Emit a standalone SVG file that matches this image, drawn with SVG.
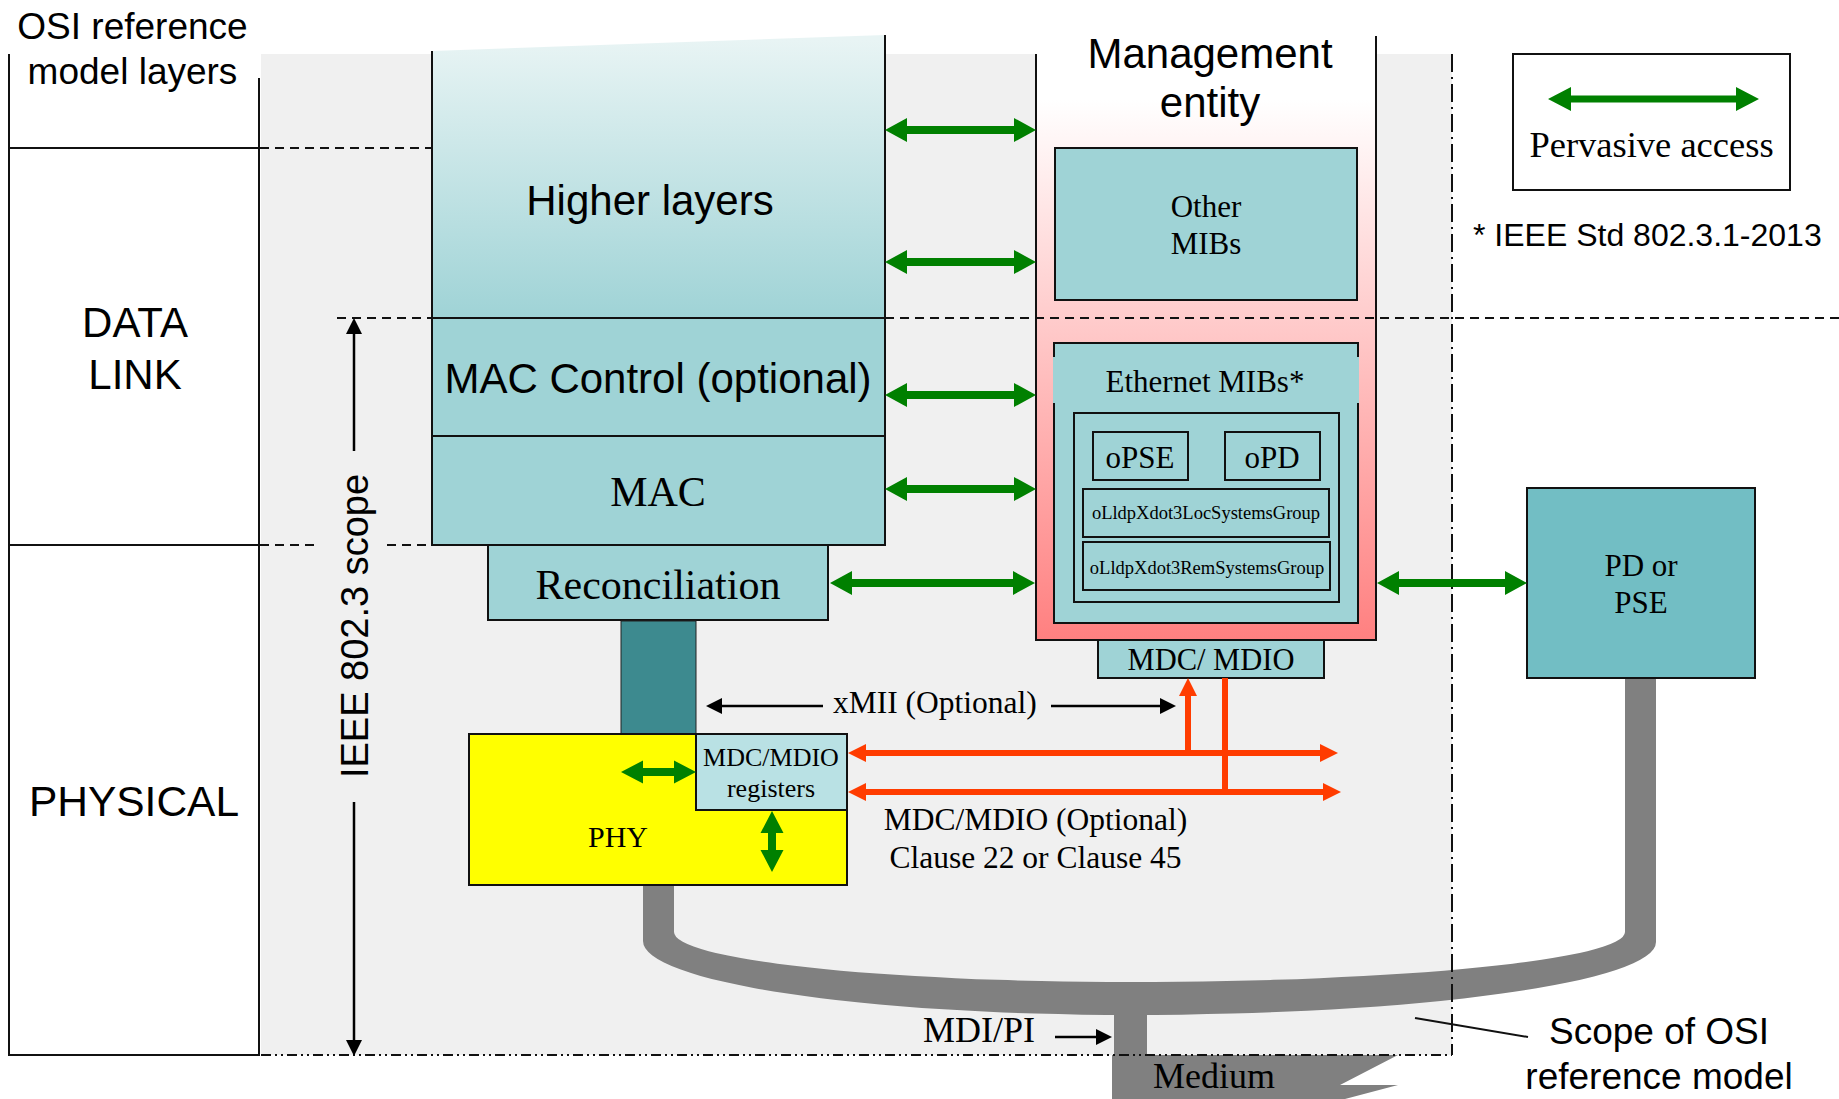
<svg xmlns="http://www.w3.org/2000/svg" width="1839" height="1099" viewBox="0 0 1839 1099">
<defs>
<style>
.sans{font-family:"Liberation Sans",Arial,sans-serif;fill:#000}
.serif{font-family:"Liberation Serif","Times New Roman",serif;fill:#000}
.box{stroke:#111;stroke-width:2}
.teal{fill:#9fd3d6}
.ln{stroke:#111;stroke-width:2;fill:none}
.dash{stroke:#111;stroke-width:1.8;stroke-dasharray:9,6;fill:none}
.green{fill:#008000}
.red{stroke:#ff3c00;stroke-width:6;fill:none}
.blk{stroke:#000;stroke-width:2.5;fill:none}
.cable{fill:#808080}
</style>
<linearGradient id="gHigh" gradientUnits="userSpaceOnUse" x1="0" y1="40" x2="0" y2="318">
<stop offset="0" stop-color="#e8f4f4"/><stop offset="1" stop-color="#9fd3d6"/>
</linearGradient>
<linearGradient id="gMgmt" gradientUnits="userSpaceOnUse" x1="0" y1="100" x2="0" y2="640">
<stop offset="0" stop-color="#ffffff"/><stop offset="1" stop-color="#ff8080"/>
</linearGradient>
<marker id="mBlk" markerUnits="userSpaceOnUse" markerWidth="16" markerHeight="16" viewBox="0 0 16 16" refX="0" refY="8" orient="auto-start-reverse">
<path d="M0,0 L16,8 L0,16 Z" fill="#000"/>
</marker>
<marker id="mRed" markerUnits="userSpaceOnUse" markerWidth="18" markerHeight="18" viewBox="0 0 18 18" refX="0" refY="9" orient="auto-start-reverse">
<path d="M0,0 L18,9 L0,18 Z" fill="#ff3c00"/>
</marker>
</defs>

<!-- scope of OSI background -->
<rect x="261" y="54" width="1191" height="1001" fill="#f0f0f0"/>

<!-- OSI layers column -->
<g id="osi-column">
<line class="ln" x1="9" y1="54" x2="9" y2="1056"/>
<line class="ln" x1="259" y1="78" x2="259" y2="1056"/>
<line class="ln" x1="8" y1="148" x2="260" y2="148"/>
<line class="ln" x1="8" y1="545" x2="260" y2="545"/>
<line class="ln" x1="8" y1="1055" x2="260" y2="1055"/>
<text class="sans" font-size="37" text-anchor="middle" x="132.5" y="39">OSI reference</text>
<text class="sans" font-size="37" text-anchor="middle" x="132.5" y="84">model layers</text>
<text class="sans" font-size="42" text-anchor="middle" x="135" y="337">DATA</text>
<text class="sans" font-size="42" text-anchor="middle" x="135" y="389">LINK</text>
<text class="sans" font-size="42.5" text-anchor="middle" x="134" y="816">PHYSICAL</text>
</g>

<!-- layer boundary dashed lines -->
<g id="boundaries">
<line class="dash" x1="260" y1="148" x2="432" y2="148"/>
<line class="dash" x1="337" y1="318" x2="432" y2="318"/>
<line class="dash" x1="260" y1="545" x2="320" y2="545"/>
<line class="dash" x1="387" y1="545" x2="432" y2="545"/>
</g>

<!-- cables -->
<g id="cables">
<path class="cable" d="M643,885 L643,941 A487,74 0 0 0 1130,1015 A526,73 0 0 0 1656,942 L1656,678 L1625,678 L1625,932 A495,50 0 0 1 1130,982 A456,50 0 0 1 674,932 L674,885 Z"/>
<rect class="cable" x="1114" y="1000" width="33" height="56"/>
<polygon class="cable" points="1112,1055 1398,1055 1340,1085 1398,1085 1345,1099 1112,1099"/>
<text class="serif" font-size="36" text-anchor="middle" x="1214" y="1088">Medium</text>
</g>

<g id="higher-layers">
<polygon points="432,51 885,35 885,318 432,318" fill="url(#gHigh)"/>
<line class="ln" x1="432" y1="51" x2="432" y2="318"/>
<line class="ln" x1="885" y1="35" x2="885" y2="318"/>
<text class="sans" font-size="42" text-anchor="middle" x="650" y="215">Higher layers</text>
</g>
<g id="mac-control">
<rect class="box teal" x="432" y="318" width="453" height="118"/>
<text class="sans" font-size="42" text-anchor="middle" x="658" y="393">MAC Control (optional)</text>
</g>
<g id="mac">
<rect class="box teal" x="432" y="436" width="453" height="109"/>
<text class="serif" font-size="42" text-anchor="middle" x="658" y="506">MAC</text>
</g>
<g id="reconciliation">
<rect class="box teal" x="488" y="545" width="340" height="75"/>
<text class="serif" font-size="42" text-anchor="middle" x="658" y="599">Reconciliation</text>
</g>
<g id="xmii-bus">
<rect x="621" y="621" width="75" height="113" fill="#3d8a8f" stroke="#222" stroke-width="1"/>
</g>
<g id="phy">
<rect class="box" x="469" y="734" width="378" height="151" fill="#ffff00"/>
<text class="serif" font-size="30" text-anchor="middle" x="618" y="847">PHY</text>
</g>
<g id="mdio-registers">
<rect class="box" x="696" y="734" width="151" height="76" fill="#b9e1e4"/>
<text class="serif" font-size="26" text-anchor="middle" x="771" y="766">MDC/MDIO</text>
<text class="serif" font-size="26" text-anchor="middle" x="771" y="797">registers</text>
</g>

<g id="management-entity">
<rect x="1036" y="36" width="340" height="604" fill="url(#gMgmt)"/>
<line class="ln" x1="1036" y1="54" x2="1036" y2="641"/>
<line class="ln" x1="1376" y1="36" x2="1376" y2="641"/>
<line class="ln" x1="1035" y1="640" x2="1377" y2="640"/>
<text class="sans" font-size="42" text-anchor="middle" x="1210" y="68">Management</text>
<text class="sans" font-size="42" text-anchor="middle" x="1210" y="117">entity</text>
</g>
<g id="other-mibs">
<rect class="box teal" x="1055" y="148" width="302" height="152"/>
<text class="serif" font-size="31" text-anchor="middle" x="1206" y="217">Other</text>
<text class="serif" font-size="31" text-anchor="middle" x="1206" y="254">MIBs</text>
</g>
<g id="ethernet-mibs">
<rect class="box teal" x="1054" y="343" width="304" height="280"/>
<rect x="1053" y="357" width="306" height="46" fill="#9fd3d6"/>
<text class="serif" font-size="31" text-anchor="middle" x="1205" y="392">Ethernet MIBs*</text>
<rect class="box teal" x="1074" y="413" width="265" height="189"/>
</g>
<g id="opse">
<rect class="box teal" x="1093" y="432" width="95" height="48"/>
<text class="serif" font-size="31" text-anchor="middle" x="1140" y="468">oPSE</text>
</g>
<g id="opd">
<rect class="box teal" x="1225" y="432" width="95" height="48"/>
<text class="serif" font-size="31" text-anchor="middle" x="1272" y="468">oPD</text>
</g>
<g id="loc-group">
<rect class="box teal" x="1083" y="489" width="246" height="48"/>
<text class="serif" font-size="18.5" text-anchor="middle" x="1206" y="519">oLldpXdot3LocSystemsGroup</text>
</g>
<g id="rem-group">
<rect class="box teal" x="1083" y="542" width="247" height="48"/>
<text class="serif" font-size="18.5" text-anchor="middle" x="1207" y="574">oLldpXdot3RemSystemsGroup</text>
</g>
<g id="mdc-mdio">
<rect class="box teal" x="1098" y="640" width="226" height="38"/>
<text class="serif" font-size="30.5" text-anchor="middle" x="1211" y="670">MDC/ MDIO</text>
</g>

<g id="pd-pse">
<rect class="box" x="1527" y="488" width="228" height="190" fill="#72bec4"/>
<text class="serif" font-size="31" text-anchor="middle" x="1641" y="576">PD or</text>
<text class="serif" font-size="31" text-anchor="middle" x="1641" y="613">PSE</text>
</g>

<g id="legend">
<rect class="box" x="1513" y="54" width="277" height="136" fill="#fff"/>
<path class="green" d="M1548,99 L1571,87 L1571,95.5 L1736,95.5 L1736,87 L1759,99 L1736,111 L1736,102.5 L1571,102.5 L1571,111 Z"/>
<text class="serif" font-size="36.5" text-anchor="middle" x="1651.5" y="157">Pervasive access</text>
</g>
<text class="sans" font-size="32" x="1473" y="246">* IEEE Std 802.3.1-2013</text>

<!-- top dashed line right part -->
<line class="ln" x1="432" y1="318" x2="885" y2="318"/>
<line class="dash" x1="885" y1="318" x2="1839" y2="318"/>

<!-- scope of OSI boundary -->
<g id="osi-scope">
<line x1="1452" y1="54" x2="1452" y2="1055" stroke="#111" stroke-width="2" stroke-dasharray="18,5,2,5"/>
<line x1="261" y1="1055" x2="1452" y2="1055" stroke="#111" stroke-width="2" stroke-dasharray="10,4,2,4,2,4"/>
<line class="ln" x1="1415" y1="1018" x2="1528" y2="1037" stroke-width="1.8"/>
<text class="sans" font-size="37" text-anchor="middle" x="1659" y="1044">Scope of OSI</text>
<text class="sans" font-size="37" text-anchor="middle" x="1659" y="1089">reference model</text>
</g>

<!-- IEEE 802.3 scope -->
<g id="ieee-scope">
<line class="blk" x1="354" y1="451" x2="354" y2="334" marker-end="url(#mBlk)"/>
<line class="blk" x1="354" y1="802" x2="354" y2="1040" marker-end="url(#mBlk)"/>
<text class="sans" font-size="38" text-anchor="middle" transform="translate(368,626) rotate(-90)">IEEE 802.3 scope</text>
</g>

<g id="connectors">
<!-- pervasive access arrows -->
<path class="green" d="M885,130 L907,118 L907,126 L1014,126 L1014,118 L1036,130 L1014,142 L1014,134 L907,134 L907,142 Z"/>
<path class="green" d="M885,262 L907,250 L907,258 L1014,258 L1014,250 L1036,262 L1014,274 L1014,266 L907,266 L907,274 Z"/>
<path class="green" d="M885,395 L907,383 L907,391 L1014,391 L1014,383 L1036,395 L1014,407 L1014,399 L907,399 L907,407 Z"/>
<path class="green" d="M885,489 L907,477 L907,485 L1014,485 L1014,477 L1036,489 L1014,501 L1014,493 L907,493 L907,501 Z"/>
<path class="green" d="M830,583 L852,571 L852,579 L1013,579 L1013,571 L1035,583 L1013,595 L1013,587 L852,587 L852,595 Z"/>
<path class="green" d="M1377,583 L1399,571 L1399,579 L1505,579 L1505,571 L1527,583 L1505,595 L1505,587 L1399,587 L1399,595 Z"/>
<path class="green" d="M621,772 L643,760.5 L643,768 L674,768 L674,760.5 L696,772 L674,783.5 L674,776 L643,776 L643,783.5 Z"/>
<path class="green" d="M772,811 L783.5,833 L776,833 L776,850 L783.5,850 L772,872 L760.5,850 L768,850 L768,833 L760.5,833 Z"/>

<!-- xMII -->
<line class="blk" x1="823" y1="706" x2="722" y2="706" marker-end="url(#mBlk)"/>
<line class="blk" x1="1051" y1="706" x2="1160" y2="706" marker-end="url(#mBlk)"/>

<!-- MDC/MDIO bus -->
<line class="red" x1="866" y1="753" x2="1320" y2="753" marker-start="url(#mRed)" marker-end="url(#mRed)"/>
<line class="red" x1="866" y1="792" x2="1323" y2="792" marker-start="url(#mRed)" marker-end="url(#mRed)"/>
<line class="red" x1="1188" y1="756" x2="1188" y2="696" marker-end="url(#mRed)"/>
<line class="red" x1="1225" y1="678" x2="1225" y2="795"/>

<!-- MDI/PI -->
<line class="blk" x1="1055" y1="1037" x2="1096" y2="1037" marker-end="url(#mBlk)"/>
</g>

<text class="serif" font-size="31.5" x="833" y="713">xMII (Optional)</text>
<text class="serif" font-size="31.5" text-anchor="middle" x="1035.5" y="830">MDC/MDIO (Optional)</text>
<text class="serif" font-size="31.5" text-anchor="middle" x="1035.5" y="868">Clause 22 or Clause 45</text>
<text class="serif" font-size="36" x="923" y="1042">MDI/PI</text>
</svg>
